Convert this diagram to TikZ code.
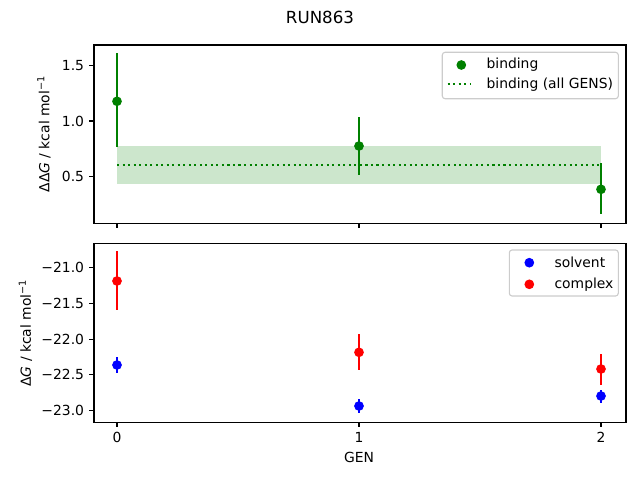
\documentclass[tikz,border=0pt]{standalone}
\usepackage{fontspec}
\setmainfont{DejaVu Sans}
\definecolor{mgreen}{RGB}{0,128,0}
\definecolor{mblue}{RGB}{0,0,255}
\definecolor{mred}{RGB}{255,0,0}
\begin{document}
\begin{tikzpicture}[x=0.72pt,y=-0.72pt,
  font=\fontsize{10}{12}\selectfont,
  spine/.style={line width=0.8pt,black},
  tickmark/.style={line width=0.8pt,black},
  ebar/.style={line width=1.6pt},
  tl/.style={inner sep=0pt},
  legbox/.style={draw=black!20,line width=0.8pt,fill=white,fill opacity=0.8,rounded corners=2pt},
  dotline/.style={line width=1.5pt,dash pattern=on 1.5pt off 2.475pt,mgreen}]
\useasboundingbox (0,0) rectangle (640,480);
\def\mr{3.5pt}
% title
\node[tl,font=\fontsize{12}{14}\selectfont] (title) at (320,17) {RUN863};

% ---------- top panel ----------
\fill[mgreen,opacity=0.2] (117,146) rectangle (601,184.3);
\draw[dotline] (117,165) -- (601,165);
% error bars
\draw[ebar,mgreen] (117,53.3) -- (117,147.3);
\draw[ebar,mgreen] (359,117.3) -- (359,175.3);
\draw[ebar,mgreen] (601,163.3) -- (601,214.3);
\fill[mgreen] (117,101.3) circle (\mr);
\fill[mgreen] (359,146) circle (\mr);
\fill[mgreen] (601,189.3) circle (\mr);
% spines
\draw[spine] (94,45) rectangle (626,223.3);
% ticks
\foreach \xx in {117,359,601} \draw[tickmark] (\xx,223.3) -- ++(0,4.86);
\foreach \yy/\lab in {65.3/1.5,121/1.0,176.3/0.5}{
  \draw[tickmark] (94,\yy) -- ++(-4.86,0);
  \node[tl,anchor=east] at (84.3,\yy) {\lab};
}
\node[tl,rotate=90] (ylab1) at (44,134) {ΔΔ\textit{G} / kcal mol\textsuperscript{−1}};
% legend
\draw[legbox] (442.3,52.3) rectangle (618.3,98.7);
\fill[mgreen] (461.3,65) circle (\mr);
\draw[dotline] (447.7,84.3) -- (471,84.3);
\node[tl,anchor=west] (lb1) at (486.3,65) {binding};
\node[tl,anchor=west] (lb2) at (486.3,84.3) {binding (all GENS)};

% ---------- bottom panel ----------
% complex
\draw[ebar,mred] (117,251) -- (117,310.3);
\draw[ebar,mred] (359,334) -- (359,370);
\draw[ebar,mred] (601,354) -- (601,384.7);
\fill[mred] (117,281) circle (\mr);
\fill[mred] (359,352.3) circle (\mr);
\fill[mred] (601,369) circle (\mr);
% solvent
\draw[ebar,mblue] (117,357.3) -- (117,372.7);
\draw[ebar,mblue] (359,399) -- (359,413.3);
\draw[ebar,mblue] (601,390) -- (601,402.7);
\fill[mblue] (117,365) circle (\mr);
\fill[mblue] (359,406) circle (\mr);
\fill[mblue] (601,396) circle (\mr);
% spines
\draw[spine] (94,243.3) rectangle (626,422.3);
\foreach \xx/\lab in {117/0,359/1,601/2}{
  \draw[tickmark] (\xx,422.3) -- ++(0,4.86);
  \node[tl,anchor=north] at (\xx,432) {\lab};
}
\foreach \yy/\lab in {267.3/−21.0,303.3/−21.5,339.3/−22.0,374.5/−22.5,410.3/−23.0}{
  \draw[tickmark] (94,\yy) -- ++(-4.86,0);
  \node[tl,anchor=east] at (84.3,\yy) {\lab};
}
\node[tl,rotate=90] (ylab2) at (25.5,333) {Δ\textit{G} / kcal mol\textsuperscript{−1}};
\node[tl] (xlab) at (359,457.7) {GEN};
% legend
\draw[legbox] (509.3,250) rectangle (618.3,296);
\fill[mblue] (529.3,262.7) circle (\mr);
\fill[mred] (529.3,284.3) circle (\mr);
\node[tl,anchor=west] (ls1) at (554.3,262.7) {solvent};
\node[tl,anchor=west] (ls2) at (554.3,284.3) {complex};
\end{tikzpicture}
\end{document}
